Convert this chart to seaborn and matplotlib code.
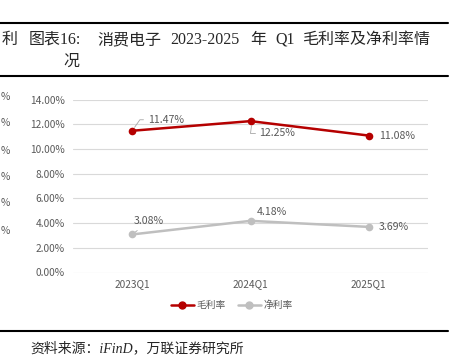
import matplotlib.pyplot as plt
import matplotlib.lines as mlines
import pandas as pd
import seaborn as sns

# 数据
quarters = ['2023Q1', '2024Q1', '2025Q1']
gross_margin = [11.47, 12.25, 11.08]
net_margin = [3.08, 4.18, 3.69]
series_names = ['毛利率', '净利率']
y_ticks = [0, 2, 4, 6, 8, 10, 12, 14]

df = pd.DataFrame({
    'quarter': quarters * 2,
    'value': gross_margin + net_margin,
    'series': [series_names[0]] * 3 + [series_names[1]] * 3,
})

sns.set_theme(style='white')
plt.rcParams['font.family'] = ['Noto Sans CJK SC', 'DejaVu Sans']
serif = ['Liberation Serif', 'Noto Sans CJK SC']

red = '#B50000'
grey = '#BFBFBF'
txt = '#595959'

fig = plt.figure(figsize=(4.55, 3.61), dpi=100)
ax = fig.add_axes([73 / 455, 1 - 272.5 / 361, 355 / 455, 173 / 361])

sns.lineplot(data=df, x='quarter', y='value', hue='series', palette=[red, grey],
             marker='o', markersize=5.5, markeredgewidth=0, linewidth=1.8,
             sort=False, ax=ax, legend=False)

ax.set_xlim(-0.5, 2.5)
ax.set_ylim(0, 14)
ax.set_yticks(y_ticks)
ax.set_yticklabels([f'{v:.2f}%' for v in y_ticks])
ax.grid(axis='y', color='#D9D9D9', linewidth=0.8)
ax.set_axisbelow(True)
for s in ax.spines.values():
    s.set_visible(False)
ax.tick_params(axis='both', length=0, labelsize=7.3, colors=txt, pad=6)
ax.tick_params(axis='x', pad=5)
ax.set_xlabel('')
ax.set_ylabel('')

# 数据标签
lead = dict(arrowstyle='-', color='#A6A6A6', lw=0.6, shrinkA=1, shrinkB=3)
labels = [
    (0, gross_margin[0], 16, 11, dict(lead, connectionstyle='angle,angleA=0,angleB=55')),
    (1, gross_margin[1], 9, -12, dict(lead, connectionstyle='angle,angleA=0,angleB=90')),
    (2, gross_margin[2], 10, 0, None),
    (0, net_margin[0], 2, 13, dict(lead, connectionstyle='arc3')),
    (1, net_margin[1], 6, 9, None),
    (2, net_margin[2], 10, 0, None),
]
for x, y, dx, dy, ap in labels:
    ax.annotate(f'{y:.2f}%', xy=(x, y), xytext=(dx, dy), textcoords='offset pixels',
                ha='left', va='center', fontsize=7.6, color=txt, arrowprops=ap)

# 图例
h1 = mlines.Line2D([], [], color=red, marker='o', markersize=5, lw=1.8)
h2 = mlines.Line2D([], [], color=grey, marker='o', markersize=5, lw=1.8)
fig.legend([h1, h2], series_names, loc='center', bbox_to_anchor=(232 / 455, 1 - 305 / 361),
           ncol=2, frameon=False, fontsize=7, labelcolor=txt, handlelength=2.4,
           handletextpad=0.3, columnspacing=1.2)

# 标题与横线
for yy in [23, 76, 331]:
    fig.add_artist(mlines.Line2D([0, 0.985], [1 - yy / 361] * 2, color='black', lw=1.5))

title_parts = [('图表16:', 29), ('消费电子', 97), ('2023-2025', 170), ('年', 250),
               ('Q1', 275), ('毛利率及净利率情', 302)]
for s, px in title_parts:
    fig.text(px / 455, 1 - 40 / 361, s, family=serif, fontsize=11.5, va='center', ha='left')
fig.text(63 / 455, 1 - 62 / 361, '况', family=serif, fontsize=11.5, va='center', ha='left')

# 左侧残留内容
fig.text(2 / 455, 1 - 40 / 361, '利', family=serif, fontsize=11.5, va='center', ha='left')
for yy in [97, 123, 151, 177, 203, 231]:
    fig.text(1 / 455, 1 - yy / 361, '%', fontsize=7.3, color=txt, va='center', ha='left')

fig.text(30 / 455, 1 - 348 / 361, '资料来源：iFinD，万联证券研究所', family=serif,
         style='italic', fontsize=10, va='center', ha='left')

fig.savefig('out.png', dpi=100)
